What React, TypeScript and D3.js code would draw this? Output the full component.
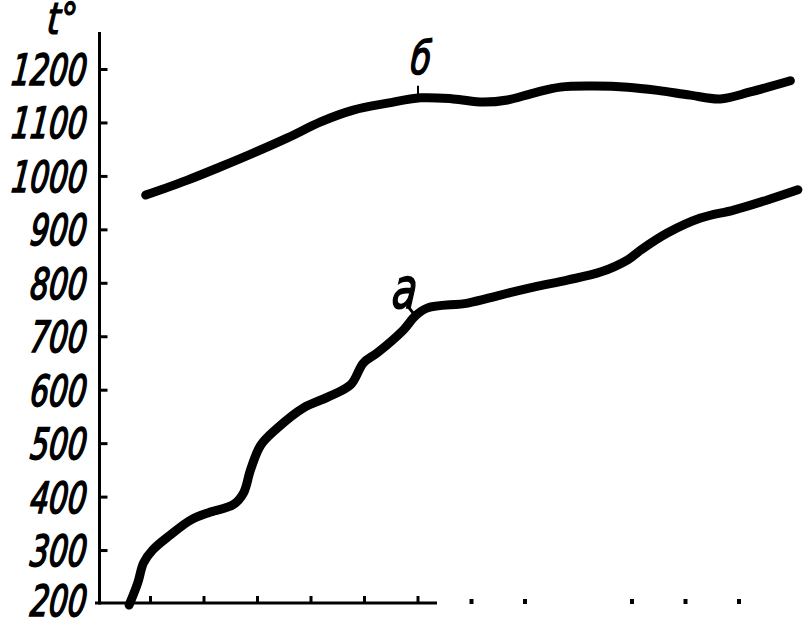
import React from "react";
import * as d3 from "d3";

const yTicks = [200, 300, 400, 500, 600, 700, 800, 900, 1000, 1100, 1200];
const xTicksSolid = [1, 2, 3, 4, 5, 6];
const xTicksDots = [7, 8, 10, 11, 12];

// curve б (upper)
const seriesBx = [0.91, 1.69, 2.31, 2.93, 3.56, 4.18, 4.79, 5.43, 6.05, 6.66, 7.22, 7.67, 8.16, 8.66, 9.28, 9.92, 10.48, 11.09, 11.65, 12.21, 12.96];
const seriesBy = [965, 993, 1018, 1044, 1072, 1102, 1124, 1137, 1147, 1145, 1139, 1143, 1156, 1167, 1169, 1167, 1161, 1152, 1145, 1158, 1179];

// curve а (lower)
const seriesAx = [0.6, 0.76, 0.87, 1.04, 1.37, 1.75, 2.12, 2.55, 2.74, 2.87, 3.06, 3.37, 3.86, 4.31, 4.74, 4.98, 5.24, 5.73, 5.95, 6.18, 6.93, 7.54, 8.16, 8.79, 9.41, 9.92, 10.16, 10.66, 11.28, 11.9, 12.53, 13.1];
const seriesAy = [198, 239, 277, 301, 329, 357, 372, 386, 408, 451, 497, 529, 567, 587, 610, 651, 670, 713, 739, 754, 763, 778, 793, 806, 821, 844, 862, 894, 922, 937, 956, 975];

const axisTitle = "t°";
const labelA = "а";
const labelB = "б";

const W = 804;
const H = 620;

export default function App() {
  const x = d3.scaleLinear().domain([0, 13]).range([97, 792.5]);
  const y = d3.scaleLinear().domain([200, 1200]).range([604, 69.5]);
  const line = d3
    .line<[number, number]>()
    .x((d) => x(d[0]))
    .y((d) => y(d[1]))
    .curve(d3.curveCatmullRom.alpha(0.5));
  const ptsA: [number, number][] = seriesAx.map((v, i) => [v, seriesAy[i]]);
  const ptsB: [number, number][] = seriesBx.map((v, i) => [v, seriesBy[i]]);
  const font = "'DejaVu Sans Condensed', 'DejaVu Sans', sans-serif";
  const axisX = 99.5;
  const baseY = 603;

  return (
    <svg width={W} height={H} style={{ position: "absolute", left: 0, top: 0, background: "#fff" }}>
      <rect width={W} height={H} fill="#fff" />
      {/* y axis */}
      <line x1={axisX} y1={32} x2={axisX} y2={baseY + 1.5} stroke="#000" strokeWidth={3} />
      {yTicks.filter((t) => t > 200).map((t) => (
        <line key={"yt" + t} x1={axisX} x2={axisX + 8} y1={y(t)} y2={y(t)} stroke="#000" strokeWidth={3} />
      ))}
      {yTicks.map((t) => (
        <g key={"yl" + t} transform={`translate(87,${t === 200 ? y(t) - 3 : y(t)}) scale(0.76,1) skewX(-8)`}>
          <text
            dy="0.36em"
            textAnchor="end"
            fontFamily={font}
            fontStyle="italic"
            fontSize={43}
            fill="#000"
            stroke="#000"
            strokeWidth={1.6}
          >
            {t}
          </text>
        </g>
      ))}
      <g transform="translate(46,34) scale(0.85,1) skewX(-6)">
        <text fontFamily={font} fontStyle="italic" fontSize={44} fill="#000" stroke="#000" strokeWidth={1.2}>
          {axisTitle}
        </text>
      </g>
      {/* x axis */}
      <line x1={95} x2={437} y1={baseY} y2={baseY} stroke="#000" strokeWidth={3} />
      {xTicksSolid.map((t) => (
        <line key={"xs" + t} x1={x(t)} x2={x(t)} y1={baseY} y2={baseY - 7} stroke="#000" strokeWidth={3} />
      ))}
      {xTicksDots.map((t) => (
        <rect key={"xd" + t} x={x(t) - 2} y={baseY - 4} width={4} height={5} fill="#000" />
      ))}
      {/* curves */}
      <path d={line(ptsB) || ""} fill="none" stroke="#000" strokeWidth={9} strokeLinecap="round" strokeLinejoin="round" />
      <path d={line(ptsA) || ""} fill="none" stroke="#000" strokeWidth={9} strokeLinecap="round" strokeLinejoin="round" />
      {/* labels */}
      <line x1={x(6.0)} x2={x(6.0)} y1={y(1147) - 12} y2={y(1147)} stroke="#000" strokeWidth={2} />
      <g transform={`translate(${x(6.0) + 2},${y(1147) - 24}) scale(0.8,1) skewX(-6)`}>
        <text textAnchor="middle" fontFamily={font} fontStyle="italic" fontSize={46} fill="#000" stroke="#000" strokeWidth={1.4}>
          {labelB}
        </text>
      </g>
      <line x1={x(5.95) - 7} y1={y(739) - 9} x2={x(5.95)} y2={y(739)} stroke="#000" strokeWidth={3} />
      <g transform={`translate(${x(5.95) - 12},${y(739) - 8}) scale(0.8,1) skewX(-6)`}>
        <text textAnchor="middle" fontFamily={font} fontStyle="italic" fontSize={56} fill="#000" stroke="#000" strokeWidth={1.6}>
          {labelA}
        </text>
      </g>
    </svg>
  );
}
